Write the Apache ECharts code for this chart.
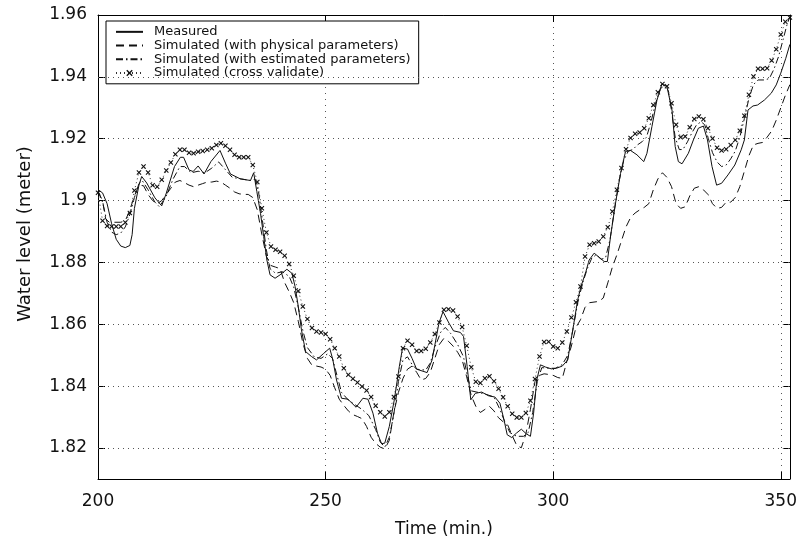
<!DOCTYPE html>
<html>
<head>
<meta charset="utf-8">
<script src="https://cdn.jsdelivr.net/npm/echarts@6/dist/echarts.min.js"></script>
<style>html,body{margin:0;padding:0;background:#fff;}#chart{width:800px;height:543px;}</style>
</head>
<body>
<div id="chart"></div>
<script>
// ---- data ----
const seriesNames = ['Measured', 'Simulated (with physical parameters)', 'Simulated (with estimated parameters)', 'Simulated (cross validate)'];
const xTicks = [200, 250, 300, 350];
const yTicks = [1.82, 1.84, 1.86, 1.88, 1.9, 1.92, 1.94, 1.96];
const yGrid = [1.82, 1.84, 1.86, 1.88, 1.9, 1.92, 1.94];

const measuredT = [200,201,202,203,204,205,206,207,207.5,208,209,209.6,210.7,212.5,214,215,216.8,218.1,218.8,220,220.9,222,223.3,224.8,226.8,228,229.1,231.3,233.5,234.2,234.9,235.7,236.4,237.1,237.8,238.9,240,241.5,242.6,243.3,244,244.7,245.6,246.9,248,249.5,250.9,251.6,252.4,253.5,254.9,256.7,258.2,259.3,260.4,261.4,262.3,263,264,265.1,266.2,266.9,268,269,270,272.3,273.4,274.9,275.8,277.1,278.1,279.6,280.3,281.1,281.9,282.9,284.3,285.8,287.2,288.3,289.2,289.9,290.9,291.9,293,294.1,295,295.7,296.4,297.2,298.3,299.6,300.7,302,303.2,304.3,305.4,306.1,307.2,307.9,309,310.1,311.2,311.9,312.6,313.7,314.8,315.9,317,318.4,319.9,320.6,321.7,322.8,323.9,325,326.1,326.8,327.5,328.3,329.7,330.8,331.9,333,333.9,334.9,335.9,337,338.4,339.9,341.3,342,342.8,343.9,344.9,346.4,347.9,349,350,351.1,352];
const measuredV = [1.9035,1.9025,1.899,1.8925,1.8875,1.8853,1.8848,1.8855,1.889,1.8975,1.905,1.9078,1.9057,1.9009,1.8983,1.9024,1.911,1.914,1.914,1.9099,1.9094,1.9112,1.9086,1.9126,1.9162,1.9121,1.9086,1.907,1.9065,1.909,1.9029,1.8959,1.8884,1.8808,1.876,1.8749,1.876,1.8778,1.8765,1.8722,1.8658,1.8582,1.8512,1.8496,1.8485,1.8505,1.8523,1.8485,1.842,1.8361,1.8358,1.8332,1.8361,1.8358,1.8313,1.8248,1.8214,1.8216,1.827,1.8356,1.8464,1.8523,1.852,1.849,1.8455,1.8444,1.8485,1.8604,1.8641,1.8604,1.8579,1.8574,1.8561,1.8464,1.8356,1.8377,1.8381,1.8369,1.8365,1.8345,1.8291,1.8243,1.8234,1.8248,1.8261,1.8246,1.8238,1.8313,1.8421,1.8469,1.8462,1.8456,1.8458,1.8465,1.8485,1.8582,1.868,1.8722,1.8771,1.8808,1.883,1.8817,1.8803,1.8803,1.8884,1.8992,1.9088,1.9159,1.9162,1.9148,1.9126,1.9153,1.924,1.9325,1.9377,1.9368,1.9293,1.9175,1.9126,1.9119,1.9153,1.9196,1.9234,1.9241,1.9196,1.911,1.905,1.9056,1.9083,1.9115,1.9164,1.9196,1.9293,1.9306,1.9309,1.9325,1.9347,1.9374,1.9412,1.946,1.9505];

const physicalT = [200,201,201.7,202.5,205,206,207,208,209,210,211,212,213,214,215,216,217,218,219,220,221,222,223,224,225,226,227,228,229,230,231,232,233,234,235,236,237,238,239,240,241,242,243,244,245,246,247,248,249,250,251,252,253,254,255,256,257,258,259,260,261,262,263,264,265,266,267,268,269,270,271,272,273,274,275,276,277,278,279,280,281,282,283,284,285,286,287,288,289,290,291,292,293,294,295,296,297,298,299,300,301,302,303,304,305,306,307,308,310,311,312,313,314,315,316,317,318,319,320,321,322,323,324,325,326,327,328,329,330,331,332,333,334,335,336,337,338,339,340,341,342,343,344,345,346,347,348,349,350,351,352];
const physicalV = [1.903,1.9,1.894,1.893,1.893,1.8935,1.897,1.9015,1.905,1.9048,1.902,1.9,1.899,1.9,1.902,1.904,1.906,1.9065,1.9058,1.905,1.9045,1.905,1.9055,1.906,1.906,1.9063,1.906,1.905,1.904,1.9028,1.9022,1.902,1.902,1.901,1.897,1.889,1.882,1.879,1.8785,1.878,1.8735,1.8705,1.867,1.861,1.854,1.849,1.8468,1.8465,1.8462,1.8455,1.8435,1.8395,1.8358,1.8338,1.832,1.8308,1.8302,1.8295,1.827,1.8235,1.8215,1.8203,1.8197,1.8225,1.8315,1.838,1.8425,1.8455,1.8465,1.8445,1.842,1.8425,1.8445,1.849,1.8535,1.8555,1.8545,1.853,1.851,1.8485,1.843,1.837,1.8335,1.8315,1.8325,1.8335,1.832,1.8298,1.8285,1.8275,1.824,1.8208,1.8201,1.8245,1.8325,1.8415,1.8435,1.844,1.8438,1.8435,1.8428,1.8425,1.848,1.853,1.859,1.8615,1.8655,1.867,1.8674,1.8685,1.8734,1.8785,1.8825,1.887,1.8915,1.8945,1.896,1.897,1.8978,1.899,1.9035,1.907,1.909,1.9075,1.9045,1.899,1.8975,1.898,1.9015,1.904,1.9045,1.9035,1.902,1.899,1.8975,1.8978,1.8995,1.8995,1.901,1.9045,1.9095,1.9145,1.918,1.9185,1.9188,1.9205,1.9225,1.926,1.93,1.934,1.9375];

const estimatedT = [200,201,202,203,204,205,206,207,208,209,209.7,211,212.5,213.5,215,216.5,218,219,220.5,222,223.5,225,226.5,228,229.5,231.5,233.5,234.5,235.3,236,237,237.8,239,240.5,242,243,244,245,246,247.5,249,250.5,251.5,252.5,253.5,255,256.5,258,259.5,261,262,263,264,265,266,267,268,269,270,272,273,274,275.3,276.3,277.5,279,280.3,281.2,282,283.5,285,287,288.3,289.5,290.5,292,293.5,294.5,295.5,296.5,297.5,299,300.5,302,303.2,304.3,305.4,306.5,307.5,308.5,309.5,310.5,311.5,312.5,313.5,314.5,315.5,316.5,317.5,318.5,319.5,320.5,321.5,322.5,323.5,324.5,325.3,326,326.8,327.7,328.5,329.5,330.5,331.5,332.5,333.3,334,335,336,337,338,339,340,341,342,343,344,345,346.5,347.5,348.5,349.5,350.5,351.3,352];
const estimatedV = [1.903,1.8995,1.893,1.8898,1.889,1.8895,1.8915,1.8955,1.901,1.9055,1.9065,1.9035,1.8995,1.898,1.9015,1.907,1.911,1.911,1.909,1.9095,1.909,1.9105,1.9125,1.91,1.9075,1.907,1.9065,1.907,1.9025,1.895,1.884,1.878,1.8765,1.877,1.8755,1.872,1.8655,1.858,1.8525,1.8495,1.849,1.8505,1.849,1.8435,1.838,1.8355,1.834,1.8325,1.8305,1.826,1.822,1.8203,1.8235,1.831,1.8415,1.8485,1.8495,1.847,1.8455,1.8452,1.8475,1.8525,1.8575,1.859,1.857,1.8535,1.8495,1.843,1.8385,1.838,1.8375,1.8365,1.8325,1.828,1.825,1.8238,1.8238,1.825,1.8315,1.8415,1.846,1.8458,1.8458,1.847,1.85,1.858,1.867,1.8735,1.878,1.8815,1.8825,1.881,1.8815,1.8875,1.8975,1.9065,1.913,1.916,1.9165,1.918,1.919,1.9205,1.9255,1.9315,1.936,1.9375,1.9355,1.929,1.9205,1.9165,1.9165,1.919,1.922,1.9245,1.9255,1.9245,1.9205,1.9155,1.9125,1.911,1.9115,1.9135,1.916,1.9205,1.9265,1.933,1.9375,1.939,1.939,1.9395,1.9425,1.9465,1.952,1.9565,1.9595];

const crossMinutes = [200,201,202,203,204,205,206,207,208,209,210,211,212,213,214,215,216,217,218,219,220,221,222,223,224,225,226,227,228,229,230,231,232,233,234,235,236,237,238,239,240,241,242,243,244,245,246,247,248,249,250,251,252,253,254,255,256,257,258,259,260,261,262,263,264,265,266,267,268,269,270,271,272,273,274,275,276,277,278,279,280,281,282,283,284,285,286,287,288,289,290,291,292,293,294,295,296,297,298,299,300,301,302,303,304,305,306,307,308,309,310,311,312,313,314,315,316,317,318,319,320,321,322,323,324,325,326,327,328,329,330,331,332,333,334,335,336,337,338,339,340,341,342,343,344,345,346,347,348,349,350,351,352];
const crossV = [1.9025,1.8935,1.8918,1.8916,1.8916,1.8916,1.8929,1.896,1.9033,1.9091,1.911,1.9091,1.905,1.9045,1.9067,1.9097,1.9123,1.915,1.9164,1.9164,1.9155,1.9153,1.9158,1.916,1.9164,1.9169,1.918,1.9185,1.9177,1.9164,1.9148,1.914,1.914,1.914,1.9115,1.906,1.8975,1.8897,1.8852,1.8841,1.8835,1.8822,1.8795,1.8757,1.8708,1.8658,1.8617,1.8588,1.8577,1.8574,1.8569,1.8552,1.8523,1.8496,1.8458,1.8437,1.8424,1.8412,1.8399,1.8386,1.8365,1.8337,1.8316,1.8302,1.8316,1.8365,1.8431,1.8523,1.8547,1.8534,1.8514,1.8514,1.8521,1.8541,1.8569,1.8606,1.8647,1.8649,1.8645,1.8625,1.8591,1.8531,1.8461,1.8414,1.841,1.8426,1.8432,1.8416,1.8392,1.8364,1.8335,1.8311,1.8299,1.8299,1.8313,1.8353,1.8423,1.8496,1.8543,1.8544,1.8528,1.8523,1.8541,1.8577,1.8622,1.8671,1.8722,1.8819,1.8857,1.8862,1.8868,1.8884,1.8914,1.8965,1.9035,1.9105,1.9166,1.9202,1.9216,1.922,1.9234,1.9266,1.9309,1.935,1.9377,1.937,1.9315,1.9245,1.9205,1.9207,1.9237,1.9264,1.9272,1.9263,1.9234,1.9201,1.9171,1.9162,1.9166,1.918,1.9196,1.9226,1.9274,1.9342,1.9401,1.9426,1.9426,1.9428,1.9453,1.9489,1.9537,1.9578,1.9592];

// ---- chart ----
const FONT = 'DejaVu Sans';
const pair = (ts, vs) => ts.map((t, i) => [t, vs[i]]);
const crossSymbol = 'path://M0,1.5L1.5,0L5,3.5L8.5,0L10,1.5L6.5,5L10,8.5L8.5,10L5,6.5L1.5,10L0,8.5L3.5,5Z';

const chart = echarts.init(document.getElementById('chart'), null, {renderer: 'canvas'});
const axisLineStyle = {color: '#000', width: 1};
const labelStyle = {fontFamily: FONT, fontSize: 17, color: '#111'};

chart.setOption({
  animation: false,
  backgroundColor: '#fff',
  grid: {left: 98, right: 5, top: 15, bottom: 64, containLabel: false},
  legend: {
    orient: 'vertical', left: 106, top: 21,
    padding: [4, 8, 4, 9],
    itemWidth: 27, itemHeight: 8, itemGap: 0,
    backgroundColor: '#fff', borderColor: '#000', borderWidth: 1, borderRadius: 0,
    textStyle: {fontFamily: FONT, fontSize: 13, color: '#111', lineHeight: 13.7, padding: [0, 0, 0, 6]},
    selectedMode: false,
    data: [
      {name: seriesNames[0], itemStyle: {opacity: 0}},
      {name: seriesNames[1], itemStyle: {opacity: 0}},
      {name: seriesNames[2], itemStyle: {opacity: 0}},
      {name: seriesNames[3]}
    ]
  },
  xAxis: [
    {
      type: 'value', min: 200, max: 352, interval: 50, position: 'bottom',
      axisLine: {show: true, onZero: false, lineStyle: axisLineStyle},
      axisTick: {show: true, inside: true, length: 7, customValues: xTicks, lineStyle: axisLineStyle},
      axisLabel: {customValues: xTicks, margin: 14, ...labelStyle},
      splitLine: {show: true, lineStyle: {type: [1, 5], color: '#555', width: 1}},
      name: 'Time (min.)', nameLocation: 'middle', nameGap: 42,
      nameTextStyle: {fontFamily: FONT, fontSize: 17, color: '#111'}
    },
    {
      type: 'value', min: 200, max: 352, interval: 50, position: 'top',
      axisLine: {show: true, onZero: false, lineStyle: axisLineStyle},
      axisTick: {show: true, inside: true, length: 7, customValues: xTicks, lineStyle: axisLineStyle},
      axisLabel: {show: false},
      splitLine: {show: false}
    }
  ],
  yAxis: [
    {
      type: 'value', min: 1.81, max: 1.96, position: 'left',
      axisLine: {show: true, onZero: false, lineStyle: axisLineStyle},
      axisTick: {show: true, inside: true, length: 7, customValues: yTicks, lineStyle: axisLineStyle},
      axisLabel: {customValues: yTicks, margin: 11, ...labelStyle, formatter: v => String(+v.toFixed(2))},
      splitLine: {show: false},
      name: 'Water level (meter)', nameLocation: 'middle', nameGap: 64,
      nameTextStyle: {fontFamily: FONT, fontSize: 18, color: '#111', padding: [0, 0, 0, 26]}
    },
    {
      type: 'value', min: 1.81, max: 1.96, position: 'right',
      axisLine: {show: true, onZero: false, lineStyle: axisLineStyle},
      axisTick: {show: true, inside: true, length: 7, customValues: yTicks, lineStyle: axisLineStyle},
      axisLabel: {show: false},
      splitLine: {show: false}
    }
  ],
  series: [
    {
      name: seriesNames[0], type: 'line', xAxisIndex: 0, yAxisIndex: 0,
      data: pair(measuredT, measuredV), symbol: 'none', z: 3,
      lineStyle: {color: '#111', width: 1, type: 'solid'}, itemStyle: {color: '#111'},
      markLine: {
        silent: true, symbol: ['none', 'none'], label: {show: false},
        lineStyle: {type: [1, 4], color: '#555', width: 1},
        data: yGrid.map(v => ({yAxis: v}))
      }
    },
    {
      name: seriesNames[1], type: 'line', xAxisIndex: 0, yAxisIndex: 0,
      data: pair(physicalT, physicalV), symbol: 'none', z: 3,
      lineStyle: {color: '#111', width: 1, type: [8, 5]}, itemStyle: {color: '#111'}
    },
    {
      name: seriesNames[2], type: 'line', xAxisIndex: 0, yAxisIndex: 0,
      data: pair(estimatedT, estimatedV), symbol: 'none', z: 3,
      lineStyle: {color: '#111', width: 1, type: [7, 3, 1.5, 3]}, itemStyle: {color: '#111'}
    },
    {
      name: seriesNames[3], type: 'line', xAxisIndex: 0, yAxisIndex: 0,
      data: pair(crossMinutes, crossV), symbol: crossSymbol, symbolSize: 5, showSymbol: true, showAllSymbol: true, z: 3,
      lineStyle: {color: '#333', width: 1, type: [1, 3]}, itemStyle: {color: '#111'}
    }
  ]
});
</script>
</body>
</html>
